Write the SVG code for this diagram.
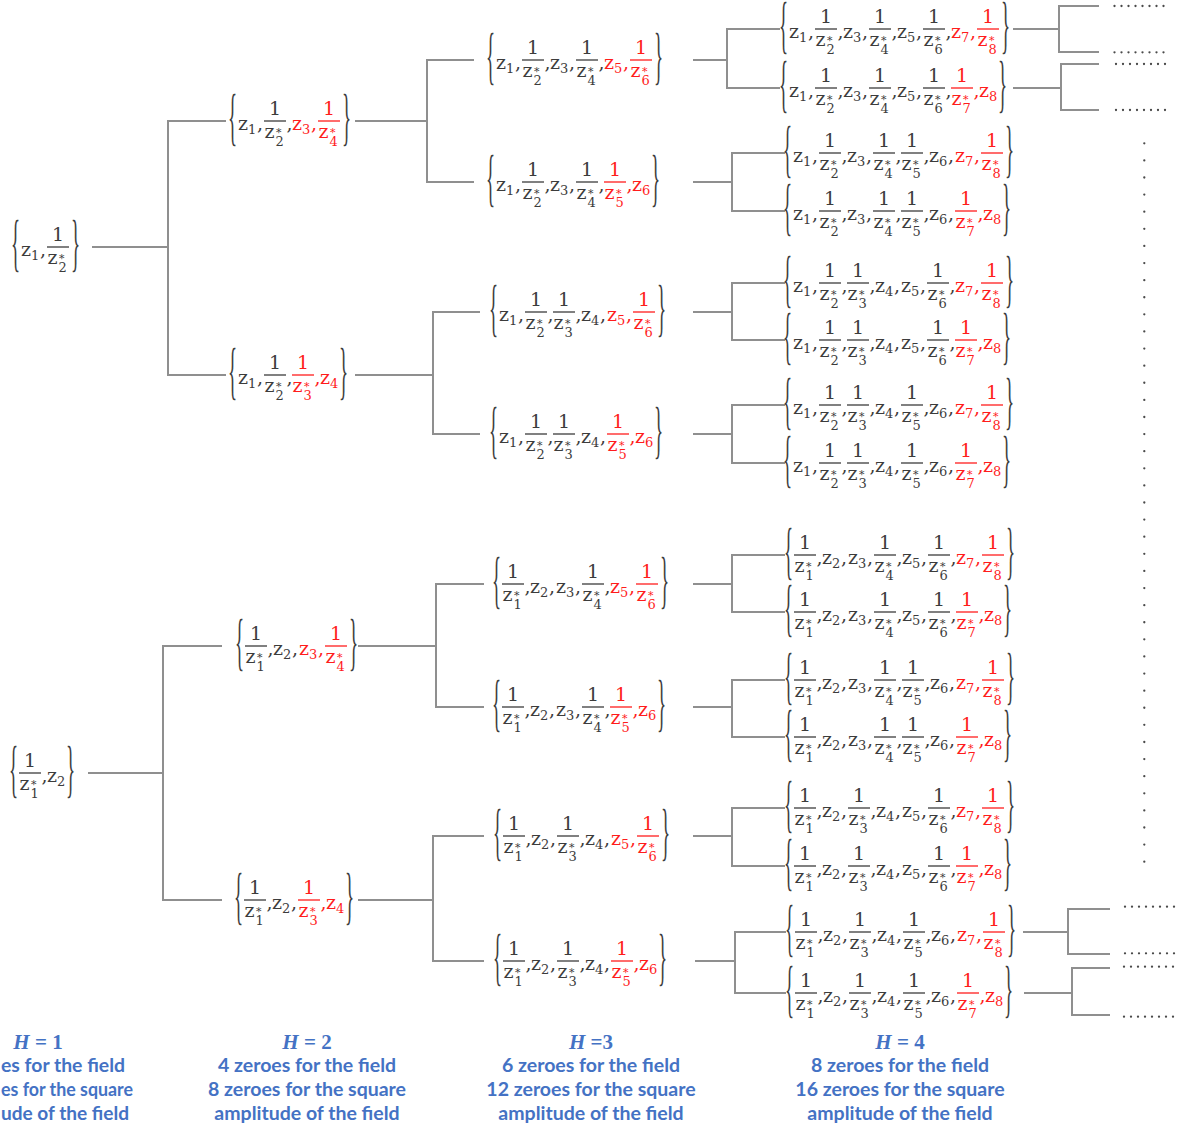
<svg xmlns="http://www.w3.org/2000/svg" xmlns:xlink="http://www.w3.org/1999/xlink" width="1189" height="1127" viewBox="0 0 1189 1127">
<style>
.m{font-family:"DejaVu Serif","Liberation Serif",serif;font-size:19px;fill:currentColor}
.s{font-size:13px}
.a{font-size:11px}
.bar{stroke:currentColor;stroke-width:1.3}
.br{font-family:"Liberation Serif",serif;font-size:19px;fill:#3c3c3c}
.k{color:#3c3c3c}
.r{color:#ff1c1c}
.c{fill:none;stroke:#8f8f8f;stroke-width:2}
.d{fill:none;stroke:#4a4a4a;stroke-width:2.3;stroke-linecap:round;stroke-dasharray:0 7}
.lbl{font-family:Lato,"Open Sans",sans-serif;font-weight:700;font-size:19.5px;fill:#4472c4;text-anchor:middle}
.lbs{font-family:Lato,"Open Sans",sans-serif;font-weight:700;font-size:19.5px;fill:#4472c4}
.hh{font-family:"Liberation Serif",serif;font-weight:700;font-size:21px;fill:#4472c4;text-anchor:middle}
</style>
<defs>
<text id="lb" class="br" transform="translate(0,17) scale(1,3.3)">{</text>
<text id="rb" class="br" transform="translate(0,17) scale(1,3.3)">}</text>
<text id="cm" class="m" y="9">,</text>
<text id="z1" class="m" y="9">z<tspan class="s" dy="4">1</tspan></text>
<text id="z2" class="m" y="9">z<tspan class="s" dy="4">2</tspan></text>
<text id="z3" class="m" y="9">z<tspan class="s" dy="4">3</tspan></text>
<text id="z4" class="m" y="9">z<tspan class="s" dy="4">4</tspan></text>
<text id="z5" class="m" y="9">z<tspan class="s" dy="4">5</tspan></text>
<text id="z6" class="m" y="9">z<tspan class="s" dy="4">6</tspan></text>
<text id="z7" class="m" y="9">z<tspan class="s" dy="4">7</tspan></text>
<text id="z8" class="m" y="9">z<tspan class="s" dy="4">8</tspan></text>
<g id="f1"><line class="bar" x1="0" x2="22"/><text class="m" x="11" y="-6" text-anchor="middle">1</text><text class="m" x="0.5" y="16.5">z</text><text class="m s" x="11.5" y="24.5">1</text><text class="m a" x="12" y="14.5">*</text></g>
<g id="f2"><line class="bar" x1="0" x2="22"/><text class="m" x="11" y="-6" text-anchor="middle">1</text><text class="m" x="0.5" y="16.5">z</text><text class="m s" x="11.5" y="24.5">2</text><text class="m a" x="12" y="14.5">*</text></g>
<g id="f3"><line class="bar" x1="0" x2="22"/><text class="m" x="11" y="-6" text-anchor="middle">1</text><text class="m" x="0.5" y="16.5">z</text><text class="m s" x="11.5" y="24.5">3</text><text class="m a" x="12" y="14.5">*</text></g>
<g id="f4"><line class="bar" x1="0" x2="22"/><text class="m" x="11" y="-6" text-anchor="middle">1</text><text class="m" x="0.5" y="16.5">z</text><text class="m s" x="11.5" y="24.5">4</text><text class="m a" x="12" y="14.5">*</text></g>
<g id="f5"><line class="bar" x1="0" x2="22"/><text class="m" x="11" y="-6" text-anchor="middle">1</text><text class="m" x="0.5" y="16.5">z</text><text class="m s" x="11.5" y="24.5">5</text><text class="m a" x="12" y="14.5">*</text></g>
<g id="f6"><line class="bar" x1="0" x2="22"/><text class="m" x="11" y="-6" text-anchor="middle">1</text><text class="m" x="0.5" y="16.5">z</text><text class="m s" x="11.5" y="24.5">6</text><text class="m a" x="12" y="14.5">*</text></g>
<g id="f7"><line class="bar" x1="0" x2="22"/><text class="m" x="11" y="-6" text-anchor="middle">1</text><text class="m" x="0.5" y="16.5">z</text><text class="m s" x="11.5" y="24.5">7</text><text class="m a" x="12" y="14.5">*</text></g>
<g id="f8"><line class="bar" x1="0" x2="22"/><text class="m" x="11" y="-6" text-anchor="middle">1</text><text class="m" x="0.5" y="16.5">z</text><text class="m s" x="11.5" y="24.5">8</text><text class="m a" x="12" y="14.5">*</text></g>
<g id="Z1"><use href="#z1"/><use href="#cm" x="19"/></g>
<g id="Z2"><use href="#z2"/><use href="#cm" x="19"/></g>
<g id="Z3"><use href="#z3"/><use href="#cm" x="19"/></g>
<g id="Z4"><use href="#z4"/><use href="#cm" x="19"/></g>
<g id="Z5"><use href="#z5"/><use href="#cm" x="19"/></g>
<g id="Z6"><use href="#z6"/><use href="#cm" x="19"/></g>
<g id="Z7"><use href="#z7"/><use href="#cm" x="19"/></g>
<g id="F1"><use href="#f1"/><use href="#cm" x="22.5"/></g>
<g id="F2"><use href="#f2"/><use href="#cm" x="22.5"/></g>
<g id="F3"><use href="#f3"/><use href="#cm" x="22.5"/></g>
<g id="F4"><use href="#f4"/><use href="#cm" x="22.5"/></g>
<g id="F5"><use href="#f5"/><use href="#cm" x="22.5"/></g>
<g id="F6"><use href="#f6"/><use href="#cm" x="22.5"/></g>
<g id="F7"><use href="#f7"/><use href="#cm" x="22.5"/></g>
<g id="pA"><use href="#Z1" x="10"/><use href="#F2" x="36"/><use href="#Z3" x="64"/><use href="#F4" x="90"/></g>
<g id="pB"><use href="#Z1" x="10"/><use href="#F2" x="36"/><use href="#F3" x="64"/><use href="#Z4" x="92"/></g>
<g id="pC"><use href="#F1" x="10"/><use href="#Z2" x="38"/><use href="#Z3" x="64"/><use href="#F4" x="90"/></g>
<g id="pD"><use href="#F1" x="10"/><use href="#Z2" x="38"/><use href="#F3" x="64"/><use href="#Z4" x="92"/></g>
<g id="h2a"><use href="#Z3" x="64"/><use href="#f4" x="90"/></g>
<g id="h2b"><use href="#F3" x="64"/><use href="#z4" x="92"/></g>
<g id="h3a"><use href="#Z5" x="118"/><use href="#f6" x="144"/></g>
<g id="h3b"><use href="#F5" x="118"/><use href="#z6" x="146"/></g>
<g id="mA"><use href="#Z5" x="118"/><use href="#F6" x="144"/></g>
<g id="mB"><use href="#F5" x="118"/><use href="#Z6" x="146"/></g>
<g id="ra"><use href="#Z7" x="172"/><use href="#f8" x="198"/></g>
<g id="rz"><use href="#F7" x="172"/><use href="#z8" x="200"/></g>
</defs>
<rect width="1189" height="1127" fill="#fff"/>

<g id="connectors" class="c">
<path d="M92,247H168M226,121H168V375H226"/>
<path d="M88,773H163M222,646H163V900H222"/>
<path d="M355,121H427M474,60H427V182H474"/>
<path d="M355,375H433M480,312H433V434H480"/>
<path d="M358,646H436M484,584H436V707H484"/>
<path d="M358,900H433M484,836H433V961H484"/>
<path d="M693,60H727M780,29H727V88H780"/>
<path d="M693,182H732M785,153H732V211H785"/>
<path d="M693,312H732M785,283H732V340H785"/>
<path d="M693,434H732M785,405H732V463H785"/>
<path d="M693,584H732M785,555H732V612H785"/>
<path d="M693,707H732M785,680H732V737H785"/>
<path d="M693,836H732M785,808H732V866H785"/>
<path d="M695,961H735M786,932H735V993H786"/>
<path d="M1013,29H1059M1099,6H1059V52H1099"/>
<path d="M1013,88H1061M1099,64H1061V110H1099"/>
<path d="M1023,932H1068M1110,909H1068V954H1110"/>
<path d="M1024,993H1072M1110,968H1072V1015H1110"/>
</g>

<g id="dots">
<path class="d" d="M1114.5,6H1170.5M1114.5,52.3H1170.5M1116,64H1172M1116,110H1172M1125,906.7H1181M1125,953.3H1181M1124,966.7H1180M1124,1016.7H1180"/>
<path class="d" style="stroke-dasharray:0 17.105" d="M1144.3,143.3V861.8"/>
</g>

<g id="n1a" transform="translate(11,247)"><use href="#lb"/><use href="#Z1" x="10" class="k"/><use href="#f2" x="36" class="k"/><use href="#rb" x="60"/></g>
<g id="n1b" transform="translate(9,773)"><use href="#lb"/><use href="#F1" x="10" class="k"/><use href="#z2" x="38" class="k"/><use href="#rb" x="57"/></g>

<g id="n2a1" transform="translate(228,121)"><use href="#lb"/><use href="#Z1" x="10" class="k"/><use href="#F2" x="36" class="k"/><use href="#h2a" class="r"/><use href="#rb" x="114"/></g>
<g id="n2a2" transform="translate(228,375)"><use href="#lb"/><use href="#Z1" x="10" class="k"/><use href="#F2" x="36" class="k"/><use href="#h2b" class="r"/><use href="#rb" x="111"/></g>
<g id="n2b1" transform="translate(235,646)"><use href="#lb"/><use href="#F1" x="10" class="k"/><use href="#Z2" x="38" class="k"/><use href="#h2a" class="r"/><use href="#rb" x="114"/></g>
<g id="n2b2" transform="translate(234,900)"><use href="#lb"/><use href="#F1" x="10" class="k"/><use href="#Z2" x="38" class="k"/><use href="#h2b" class="r"/><use href="#rb" x="111"/></g>

<g id="n3_1" transform="translate(486,60)"><use href="#lb"/><use href="#pA" class="k"/><use href="#h3a" class="r"/><use href="#rb" x="168"/></g>
<g id="n3_2" transform="translate(486,182)"><use href="#lb"/><use href="#pA" class="k"/><use href="#h3b" class="r"/><use href="#rb" x="165"/></g>
<g id="n3_3" transform="translate(489,312)"><use href="#lb"/><use href="#pB" class="k"/><use href="#h3a" class="r"/><use href="#rb" x="168"/></g>
<g id="n3_4" transform="translate(489,434)"><use href="#lb"/><use href="#pB" class="k"/><use href="#h3b" class="r"/><use href="#rb" x="165"/></g>
<g id="n3_5" transform="translate(492,584)"><use href="#lb"/><use href="#pC" class="k"/><use href="#h3a" class="r"/><use href="#rb" x="168"/></g>
<g id="n3_6" transform="translate(492,707)"><use href="#lb"/><use href="#pC" class="k"/><use href="#h3b" class="r"/><use href="#rb" x="165"/></g>
<g id="n3_7" transform="translate(493,836)"><use href="#lb"/><use href="#pD" class="k"/><use href="#h3a" class="r"/><use href="#rb" x="168"/></g>
<g id="n3_8" transform="translate(493,961)"><use href="#lb"/><use href="#pD" class="k"/><use href="#h3b" class="r"/><use href="#rb" x="165"/></g>

<g id="n4_1" transform="translate(779,29)"><use href="#lb"/><use href="#pA" class="k"/><use href="#mA" class="k"/><use href="#ra" class="r"/><use href="#rb" x="222"/></g>
<g id="n4_2" transform="translate(779,88)"><use href="#lb"/><use href="#pA" class="k"/><use href="#mA" class="k"/><use href="#rz" class="r"/><use href="#rb" x="219"/></g>
<g id="n4_3" transform="translate(783,153)"><use href="#lb"/><use href="#pA" class="k"/><use href="#mB" class="k"/><use href="#ra" class="r"/><use href="#rb" x="222"/></g>
<g id="n4_4" transform="translate(783,211)"><use href="#lb"/><use href="#pA" class="k"/><use href="#mB" class="k"/><use href="#rz" class="r"/><use href="#rb" x="219"/></g>
<g id="n4_5" transform="translate(783,283)"><use href="#lb"/><use href="#pB" class="k"/><use href="#mA" class="k"/><use href="#ra" class="r"/><use href="#rb" x="222"/></g>
<g id="n4_6" transform="translate(783,340)"><use href="#lb"/><use href="#pB" class="k"/><use href="#mA" class="k"/><use href="#rz" class="r"/><use href="#rb" x="219"/></g>
<g id="n4_7" transform="translate(783,405)"><use href="#lb"/><use href="#pB" class="k"/><use href="#mB" class="k"/><use href="#ra" class="r"/><use href="#rb" x="222"/></g>
<g id="n4_8" transform="translate(783,463)"><use href="#lb"/><use href="#pB" class="k"/><use href="#mB" class="k"/><use href="#rz" class="r"/><use href="#rb" x="219"/></g>
<g id="n4_9" transform="translate(784,555)"><use href="#lb"/><use href="#pC" class="k"/><use href="#mA" class="k"/><use href="#ra" class="r"/><use href="#rb" x="222"/></g>
<g id="n4_10" transform="translate(784,612)"><use href="#lb"/><use href="#pC" class="k"/><use href="#mA" class="k"/><use href="#rz" class="r"/><use href="#rb" x="219"/></g>
<g id="n4_11" transform="translate(784,680)"><use href="#lb"/><use href="#pC" class="k"/><use href="#mB" class="k"/><use href="#ra" class="r"/><use href="#rb" x="222"/></g>
<g id="n4_12" transform="translate(784,737)"><use href="#lb"/><use href="#pC" class="k"/><use href="#mB" class="k"/><use href="#rz" class="r"/><use href="#rb" x="219"/></g>
<g id="n4_13" transform="translate(784,808)"><use href="#lb"/><use href="#pD" class="k"/><use href="#mA" class="k"/><use href="#ra" class="r"/><use href="#rb" x="222"/></g>
<g id="n4_14" transform="translate(784,866)"><use href="#lb"/><use href="#pD" class="k"/><use href="#mA" class="k"/><use href="#rz" class="r"/><use href="#rb" x="219"/></g>
<g id="n4_15" transform="translate(785,932)"><use href="#lb"/><use href="#pD" class="k"/><use href="#mB" class="k"/><use href="#ra" class="r"/><use href="#rb" x="222"/></g>
<g id="n4_16" transform="translate(785,993)"><use href="#lb"/><use href="#pD" class="k"/><use href="#mB" class="k"/><use href="#rz" class="r"/><use href="#rb" x="219"/></g>

<g id="labels">
<text class="hh" x="38" y="1049"><tspan font-style="italic">H</tspan> = 1</text>
<text class="lbs" x="1" y="1072" textLength="124" lengthAdjust="spacingAndGlyphs">es for the field</text>
<text class="lbs" x="1" y="1096" textLength="132" lengthAdjust="spacingAndGlyphs">es for the square</text>
<text class="lbs" x="1" y="1120" textLength="128" lengthAdjust="spacingAndGlyphs">ude of the field</text>
<text class="hh" x="307" y="1049"><tspan font-style="italic">H</tspan> = 2</text>
<text class="lbl" x="307" y="1072">4 zeroes for the field</text>
<text class="lbl" x="307" y="1096">8 zeroes for the square</text>
<text class="lbl" x="307" y="1120">amplitude of the field</text>
<text class="hh" x="591" y="1049"><tspan font-style="italic">H</tspan> =3</text>
<text class="lbl" x="591" y="1072">6 zeroes for the field</text>
<text class="lbl" x="591" y="1096">12 zeroes for the square</text>
<text class="lbl" x="591" y="1120">amplitude of the field</text>
<text class="hh" x="900" y="1049"><tspan font-style="italic">H</tspan> = 4</text>
<text class="lbl" x="900" y="1072">8 zeroes for the field</text>
<text class="lbl" x="900" y="1096">16 zeroes for the square</text>
<text class="lbl" x="900" y="1120">amplitude of the field</text>
</g>
</svg>
